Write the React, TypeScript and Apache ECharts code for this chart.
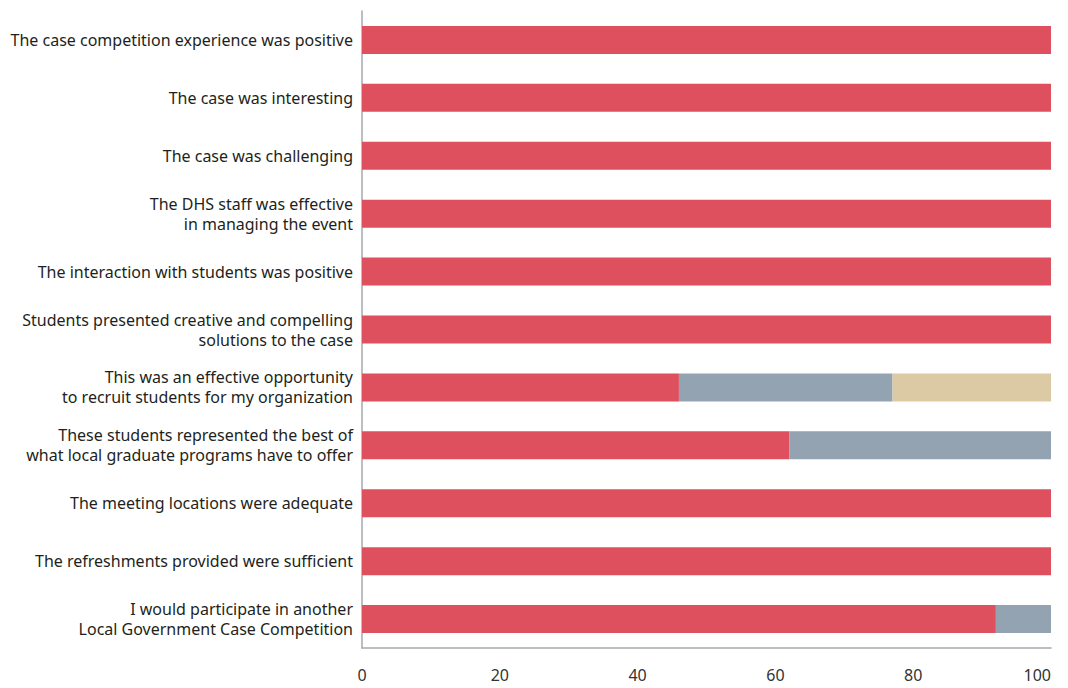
import React, { useEffect, useRef } from "react";
import * as echarts from "echarts";

const categories = [
  "The case competition experience was positive",
  "The case was interesting",
  "The case was challenging",
  "The DHS staff was effective\nin managing the event",
  "The interaction with students was positive",
  "Students presented creative and compelling\nsolutions to the case",
  "This was an effective opportunity\nto recruit students for my organization",
  "These students represented the best of\nwhat local graduate programs have to offer",
  "The meeting locations were adequate",
  "The refreshments provided were sufficient",
  "I would participate in another\nLocal Government Case Competition",
];

const seriesA = [100, 100, 100, 100, 100, 100, 46, 62, 100, 100, 92];
const seriesB = [0, 0, 0, 0, 0, 0, 31, 38, 0, 0, 8];
const seriesC = [0, 0, 0, 0, 0, 0, 23, 0, 0, 0, 0];
const xTicks = [0, 20, 40, 60, 80, 100];

const colors = ["#DE505E", "#93A3B1", "#DCCAA5"];

export default function App() {
  const ref = useRef<HTMLDivElement>(null);
  useEffect(() => {
    if (!ref.current) return;
    const chart = echarts.init(ref.current, undefined, { renderer: "svg" });
    const mk = (name: string, data: number[], color: string) => ({
      name,
      type: "bar",
      stack: "total",
      data,
      barWidth: 28,
      itemStyle: { color },
      emphasis: { disabled: true },
    });
    chart.setOption({
      animation: false,
      textStyle: { fontFamily: "Noto Sans" },
      grid: { left: 362, right: 17, top: 11, bottom: 40, containLabel: false },
      xAxis: {
        type: "value",
        min: xTicks[0],
        max: xTicks[xTicks.length - 1],
        interval: 20,
        axisLine: { show: true, lineStyle: { color: "#a7a9ac", width: 1.5 } },
        axisTick: { show: false },
        splitLine: { show: false },
        axisLabel: {
          color: "#333",
          fontSize: 16,
          margin: 19,
          fontFamily: "Noto Sans",
          alignMaxLabel: "right",
        },
      },
      yAxis: {
        type: "category",
        data: categories,
        inverse: true,
        axisLine: { show: true, lineStyle: { color: "#a7a9ac", width: 1.5 } },
        axisTick: { show: false },
        axisLabel: {
          color: "#231f20",
          fontSize: 16,
          margin: 9,
          lineHeight: 20,
          align: "right",
          fontFamily: "Noto Sans",
        },
      },
      series: [
        mk("A", seriesA, colors[0]),
        mk("B", seriesB, colors[1]),
        mk("C", seriesC, colors[2]),
      ],
    });
    return () => chart.dispose();
  }, []);
  return <div ref={ref} style={{ width: 1068, height: 688, position: "absolute", left: 0, top: 0, background: "#fff" }} />;
}
